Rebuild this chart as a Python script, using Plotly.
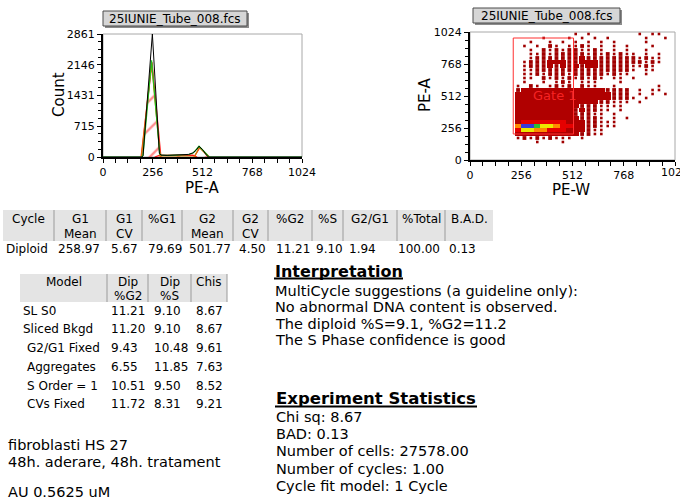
import plotly.graph_objects as go

W, H = 680, 501
FONT = "DejaVu Sans"


def X(p):
    return p / W


def Y(p):
    return 1 - p / H


# ---------------- data ----------------
file_name = "25IUNIE_Tube_008.fcs"
pea_ticks = [0, 256, 512, 768, 1024]
count_tick_vals = [0, 715.25, 1430.5, 2145.75, 2861]
count_tick_text = ["0", "715", "1431", "2146", "2861"]
count_max = 2861
scatter_ticks = [0, 256, 512, 768, 1024]

# histogram (PE-A channel vs count)
data_ch = [0, 200, 206, 254, 290, 298, 330, 370, 410, 440, 462, 480, 494, 512, 528, 542, 1024]
data_count = [0, 0, 30, 2861, 85, 45, 38, 42, 45, 60, 95, 160, 250, 175, 70, 0, 0]
fit_ch = [0, 200, 206, 250, 292, 300, 340, 400, 440, 466, 494, 520, 546, 1024]
fit_count = [0, 0, 40, 2250, 70, 42, 38, 40, 52, 100, 250, 130, 0, 0]
g1g2_ch = [198, 250, 294, 470, 496, 544]
g1g2_count = [0, 2200, 0, 0, 225, 0]
g1_ch = [196, 252, 298]
g1_count = [0, 2200, 0]
s_ch = [266, 290, 462, 484]
s_count = [0, 40, 45, 0]
g2_ch = [468, 498, 548]
g2_count = [0, 215, 0]

# PE-W vs PE-A density, 32x32 cells of 32 channels, top row = PE-A 992..1024
# '.' none, '1' sparse, '2' medium, '3' dense, '4' bright, 'o' orange, 'y' yellow, 'g' green, 'b' blue
density_rows = [
    "................1.1.......1.11..",
    "...........1...1.1.1.1.....1..1.",
    ".........1..1.1.1.1.1.1....1....",
    "........1.1.21.1121.1.1.1...1...",
    ".........1.2121221121.1.1..1....",
    ".........11212222212121211.1.1..",
    "........." + "12222" + "22232" + "22222" + "22121" + "1..",
    "........1" + "22233" + "32233" + "32222" + "22212" + "1" + "..",
    "........1" + "22232" + "32323" + "32222" + "21121" + "...",
    "........1" + "12222" + "22222" + "22222" + "21.11" + "...",
    "........1" + "12122" + "21222" + "22121" + "1..1." + "...",
    "........1" + "1.212" + "12121" + "21.11" + ".1..." + "...",
    "........1" + "..1.1" + "21.11" + "1...1" + "....." + "...",
    "......." + "1." + "21.12" + "12.21" + "1..1." + "....." + "1..",
    "......." + "23" + "33333" + "33333" + "33222" + "2.1.1" + "1..",
    "......." + "33" + "33333" + "33333" + "33322" + "2.1.1" + ".1.",
    "......." + "33" + "33333" + "33333" + "33322" + "21.1." + "...",
    "......." + "33" + "33333" + "33333" + "32211" + "1.1.." + "...",
    "......." + "33" + "33333" + "33322" + "21111" + "....." + "...",
    "......." + "33" + "33333" + "33232" + "211.1" + "....." + "...",
    "......." + "33" + "33333" + "33222" + "11.1." + "....." + "...",
    "......." + "33" + "33333" + "33322" + "21.1." + "1...." + "...",
    "......." + "34" + "44444" + "43332" + "2111." + "....." + "...",
    "......." + "ob" + "bgyyo" + "44332" + "2111." + "....." + "...",
    "......." + "4y" + "yoo44" + "43332" + "11..." + "....." + "...",
    "......." + "33" + "33333" + "33322" + "11..." + "....." + "...",
    "......." + "12" + "12121" + "11.1." + "....." + "....." + "...",
    "..........1...1.................",
    "................................",
    "................................",
    "................................",
    "................................",
]
gate_x = [216, 517]
gate_y = [208, 976]
gate_label = "Gate 1"

# tables
cycle_head1 = ["Cycle", "G1", "G1", "%G1", "G2", "G2", "%G2", "%S", "G2/G1", "%Total", "B.A.D."]
cycle_head2 = ["", "Mean", "CV", "", "Mean", "CV", "", "", "", "", ""]
cycle_row = ["Diploid", "258.97", "5.67", "79.69", "501.77", "4.50", "11.21", "9.10", "1.94", "100.00", "0.13"]

model_head1 = ["Model", "Dip", "Dip", "Chis"]
model_head2 = ["", "%G2", "%S", ""]
model_names = ["SL S0", "Sliced Bkgd", "G2/G1 Fixed", "Aggregates", "S Order = 1", "CVs Fixed"]
model_dip_g2 = ["11.21", "11.20", "9.43", "6.55", "10.51", "11.72"]
model_dip_s = ["9.10", "9.10", "10.48", "11.85", "9.50", "8.31"]
model_chis = ["8.67", "8.67", "9.61", "7.63", "8.52", "9.21"]

interp_title = "Interpretation"
interp_lines = [
    "MultiCycle suggestions (a guideline only):",
    "No abnormal DNA content is observed.",
    "The diploid %S=9.1, %G2=11.2",
    "The S Phase confidence is good",
]
stats_title = "Experiment Statistics"
stats_lines = [
    "Chi sq: 8.67",
    "BAD: 0.13",
    "Number of cells: 27578.00",
    "Number of cycles: 1.00",
    "Cycle fit model: 1 Cycle",
]
sample_lines = ["fibroblasti HS 27", "48h. aderare, 48h. tratament", "AU 0.5625 uM"]

# ---------------- layout positions (pixels) ----------------
cyc_sep = [54, 106, 142, 182, 233, 268, 312, 343, 397, 445]
cyc_left, cyc_right = 3, 493
cyc_edges = [cyc_left] + cyc_sep + [cyc_right]
cyc_val_x = [5, 57, 110, 147, 188, 238, 275, 315, 348, 397, 448]
mod_edges = [20, 107, 148, 191, 227]
mod_val_x = [110, 153, 195]
mod_name_x = [22, 22, 26, 26, 26, 26]
mod_row_y = [311, 329, 348, 367, 385.5, 404]

fig = go.Figure()

# ---------------- histogram ----------------
pat = dict(shape="/", fgcolor="#ff1a1a", bgcolor="rgba(255,255,255,0)", size=20, solidity=0.12)
for xs, ys in [(g1_ch, g1_count), (g2_ch, g2_count), (s_ch, s_count)]:
    fig.add_trace(go.Scatter(x=xs, y=ys, mode="lines", fill="toself",
                             fillcolor="rgba(0,0,0,0)", fillpattern=pat,
                             line=dict(color="#ff1a1a", width=1.3),
                             xaxis="x", yaxis="y", hoverinfo="skip"))
fig.add_trace(go.Scatter(x=g1g2_ch, y=g1g2_count, mode="lines",
                         line=dict(color="#d08000", width=1.2), xaxis="x", yaxis="y", hoverinfo="skip"))
fig.add_trace(go.Scatter(x=fit_ch, y=fit_count, mode="lines",
                         line=dict(color="#20c020", width=1.2), xaxis="x", yaxis="y", hoverinfo="skip"))
fig.add_trace(go.Scatter(x=data_ch, y=data_count, mode="lines",
                         line=dict(color="black", width=1), xaxis="x", yaxis="y", hoverinfo="skip"))

# ---------------- density scatter ----------------
cell = 32
dense_codes = {"3": 1, "4": 2, "o": 3, "y": 4, "g": 5, "b": 6}
xc = [cell / 2 + cell * i for i in range(32)]
yc = [1024 - cell / 2 - cell * r for r in range(len(density_rows))]
z = [[dense_codes.get(ch) for ch in row] for row in density_rows]
cols = ["#b00000", "#e60000", "#ff8a00", "#ece800", "#2ec02e", "#3a3ad8"]
cs = []
for i, c in enumerate(cols):
    cs.append([i / 6, c])
    cs.append([(i + 1) / 6, c])
fig.add_trace(go.Heatmap(x=xc, y=yc, z=z, zmin=0.5, zmax=6.5, colorscale=cs,
                         showscale=False, xaxis="x2", yaxis="y2", hoverinfo="skip"))
for code, size in [("1", 2.6), ("2", 3.8)]:
    px_, py_ = [], []
    for r, row in enumerate(density_rows):
        for i, ch in enumerate(row):
            if ch == code:
                px_.append(xc[i])
                py_.append(yc[r])
    fig.add_trace(go.Scatter(x=px_, y=py_, mode="markers",
                             marker=dict(symbol="square", size=size, color="#a00000", line=dict(width=0)),
                             xaxis="x2", yaxis="y2", hoverinfo="skip"))

# ---------------- axes ----------------
tickfont = dict(family=FONT, size=11, color="black")
common = dict(showgrid=False, zeroline=False, ticks="outside", tickcolor="black", automargin=False,
              tickfont=tickfont, showline=True, linecolor="black", fixedrange=True)
fig.update_layout(
    xaxis=dict(domain=[X(103), X(302)], range=[0, 1024], tickmode="array", tickvals=pea_ticks,
               ticktext=[str(v) for v in pea_ticks], ticklen=4, linewidth=1.5, anchor="y",
               minor=dict(dtick=64, tick0=0, ticks="outside", ticklen=4, tickcolor="black"), **common),
    yaxis=dict(domain=[Y(157), Y(34)], range=[0, count_max], tickmode="array", tickvals=count_tick_vals,
               ticktext=count_tick_text, ticklen=4, linewidth=2, anchor="x",
               minor=dict(dtick=count_max / 16, tick0=0, ticks="outside", ticklen=3, tickcolor="black"), **common),
    xaxis2=dict(domain=[X(470), X(675)], range=[0, 1024], tickmode="array", tickvals=scatter_ticks,
                ticktext=[str(v) for v in scatter_ticks], ticklen=4, linewidth=1.5, anchor="y2",
                minor=dict(dtick=64, tick0=0, ticks="outside", ticklen=4, tickcolor="black"), **common),
    yaxis2=dict(domain=[Y(160), Y(32)], range=[0, 1024], tickmode="array", tickvals=scatter_ticks,
                ticktext=[str(v) for v in scatter_ticks], ticklen=4, linewidth=2, anchor="x2",
                minor=dict(dtick=64, tick0=0, ticks="outside", ticklen=3, tickcolor="black"), **common),
)

shapes = []
annotations = []


def text(xp, yp, s, size=14.5, anchor="left", color="black", angle=0, bold=False):
    annotations.append(dict(x=X(xp), y=Y(yp), xref="paper", yref="paper",
                            text=("<b>%s</b>" % s) if bold else s, showarrow=False,
                            xanchor=anchor, yanchor="middle", textangle=angle, borderpad=0,
                            font=dict(family=FONT, size=size, color=color)))


def rect(x0, y0, x1, y1, fill, line=None, lw=1):
    shapes.append(dict(type="rect", xref="paper", yref="paper", x0=X(x0), x1=X(x1), y0=Y(y1), y1=Y(y0),
                       fillcolor=fill, line=dict(color=line or fill, width=lw if line else 0), layer="below"))


def hline(x0, x1, y, color="black", w=1):
    shapes.append(dict(type="line", xref="paper", yref="paper", x0=X(x0), x1=X(x1), y0=Y(y), y1=Y(y),
                       line=dict(color=color, width=w)))


def vline(x, y0, y1, color="#9a9a9a", w=1):
    shapes.append(dict(type="line", xref="paper", yref="paper", x0=X(x), x1=X(x), y0=Y(y0), y1=Y(y1),
                       line=dict(color=color, width=w)))


# plot frames
for xa, ya in [("x", "y"), ("x2", "y2")]:
    shapes.append(dict(type="rect", xref=xa + " domain", yref=ya + " domain", x0=0, x1=1, y0=0, y1=1,
                       line=dict(color="#a8a8a8", width=1), fillcolor="rgba(0,0,0,0)", layer="below"))

# last scatter tick label runs past the page edge (as in the original): draw it explicitly
annotations.append(dict(x=scatter_ticks[-1], y=0, xref="x2", yref="paper", yshift=Y(172) * H,
                        text=str(scatter_ticks[-1]), showarrow=False, xanchor="center", yanchor="middle",
                        borderpad=0, font=tickfont))

# gate
shapes.append(dict(type="rect", xref="x2", yref="y2", x0=gate_x[0], x1=gate_x[1], y0=gate_y[0], y1=gate_y[1],
                   line=dict(color="#ff3030", width=1), fillcolor="rgba(0,0,0,0)"))
annotations.append(dict(x=425, y=518, xref="x2", yref="y2", text=gate_label,
                        showarrow=False, font=dict(family=FONT, size=13, color="rgba(255,40,40,0.9)")))

# title boxes
for (bx0, by0, bx1, by1) in [(103, 11, 247, 26), (473, 8, 620, 23)]:
    rect(bx0 + 2, by0 + 2, bx1 + 2, by1 + 2, "#8c8c8c")
    rect(bx0, by0, bx1, by1, "#d6d6d6", "#4a4a4a", 1)
    text((bx0 + bx1) / 2, (by0 + by1) / 2 + 0.5, file_name, size=12, anchor="center")

# axis titles
text(202, 187.5, "PE-A", size=15, anchor="center")
text(59, 95, "Count", size=15, anchor="center", angle=-90)
text(571, 189.5, "PE-W", size=15, anchor="center")
text(425, 95, "PE-A", size=15, anchor="center", angle=-90)

# cycle table
rect(cyc_left, 210, cyc_right, 241, "#e4e4e4")
for sx in cyc_sep:
    vline(sx, 210, 241)
for i in range(len(cycle_head1)):
    cx = (cyc_edges[i] + cyc_edges[i + 1]) / 2
    text(cx, 219.5, cycle_head1[i], size=12, anchor="center")
    if cycle_head2[i]:
        text(cx, 233.5, cycle_head2[i], size=12, anchor="center")
    text(cyc_val_x[i], 248.5, cycle_row[i], size=12)

# model table
rect(mod_edges[0], 274, mod_edges[-1], 302, "#e4e4e4")
for sx in mod_edges[1:]:
    vline(sx, 274, 302)
for i in range(len(model_head1)):
    cx = (mod_edges[i] + mod_edges[i + 1]) / 2
    text(cx, 281.5, model_head1[i], size=12, anchor="center")
    if model_head2[i]:
        text(cx, 295.5, model_head2[i], size=12, anchor="center")
for r in range(len(model_names)):
    yv = mod_row_y[r]
    text(mod_name_x[r], yv, model_names[r], size=12)
    text(mod_val_x[0], yv, model_dip_g2[r], size=12)
    text(mod_val_x[1], yv, model_dip_s[r], size=12)
    text(mod_val_x[2], yv, model_chis[r], size=12)

# interpretation
text(274, 271, interp_title, size=16, bold=True)
hline(274, 403, 278.5, w=2)
for yv, s in zip([291, 307, 323.5, 340], interp_lines):
    text(274, yv, s)

# experiment statistics
text(275, 398, stats_title, size=16.5, bold=True)
hline(275, 477, 406.5, w=2)
for yv, s in zip([416.5, 433.5, 451, 468.5, 486], stats_lines):
    text(275, yv, s)

# sample notes
for yv, s in zip([445, 462, 492], sample_lines):
    text(7, yv, s)

fig.update_layout(width=W, height=H, margin=dict(l=0, r=0, t=0, b=0, autoexpand=False),
                  paper_bgcolor="white", plot_bgcolor="white", showlegend=False,
                  shapes=shapes, annotations=annotations)

fig.write_html("out.html", config={"displayModeBar": False},
               post_script="document.body.style.margin='0';document.body.style.padding='0';"
                           "document.body.style.overflow='hidden';")
